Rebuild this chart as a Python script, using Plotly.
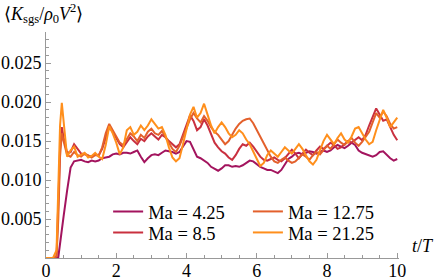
import numpy as np
import plotly.graph_objects as go

t_start = [0, 0.1, 0.2, 0.3, 0.35, 0.4, 0.45, 0.5]
t_rest = [round(0.6 + 0.1 * i, 1) for i in range(95)]
t = t_start + t_rest

ma_4_25 = [0, 0, 0, 0, 0.1, 2.0, 3.6, 5.3,
           8.6, 11.6, 12.4, 12.5, 12.6, 12.4, 12.3, 12.5, 12.4, 12.5, 12.8, 12.9, 13.0, 13.3, 13.4,
           13.3, 13.5, 13.5, 13.4, 13.6, 13.8, 13.0, 12.3, 12.8, 13.2, 13.3, 13.2, 13.5, 13.8, 13.7,
           13.6, 13.4, 13.6, 14.3, 15.0, 14.9, 14.0, 13.0, 12.8, 12.5, 12.2, 11.7, 11.4, 11.2, 11.5,
           11.9, 11.9, 11.7, 11.8, 11.7, 11.9, 12.2, 12.5, 12.4, 12.0, 11.7, 11.5, 11.3, 11.3, 11.1,
           10.9, 11.3, 12.0, 12.7, 13.0, 13.4, 13.5, 13.3, 13.5, 13.7, 13.6, 13.4, 13.6, 13.8, 13.6,
           13.8, 14.2, 14.5, 14.3, 14.1, 14.4, 14.8, 14.5, 13.8, 13.5, 13.3, 13.1, 13.0, 13.2, 13.6,
           13.7, 13.2, 12.8, 12.5, 12.7]
ma_8_5 = [0, 0, 0, 0.2, 6.0, 14.0, 16.8, 15.5,
          13.5, 13.6, 14.6, 14.0, 13.4, 13.3, 13.1, 13.0, 13.3, 13.2, 14.0, 15.5, 16.8, 16.2, 15.4,
          14.6, 14.2, 14.8, 15.5, 15.0, 14.6, 15.3, 15.0, 15.6, 16.0, 15.6, 15.2, 15.8, 15.5, 15.0,
          14.6, 14.2, 14.6, 15.8, 17.0, 18.3, 17.6, 16.4, 16.8, 17.8, 17.0, 15.8, 14.8, 14.2, 13.7,
          13.4, 12.9, 12.6, 13.2, 14.0, 14.6, 14.4, 14.8, 14.3, 13.6, 13.0, 12.6, 12.5, 12.7, 12.9,
          12.6, 12.4, 12.8, 13.4, 13.9, 13.4, 12.8, 13.4, 13.9, 13.5, 13.2, 13.8, 14.3, 14.0, 14.4,
          14.8, 14.5, 14.0, 14.2, 14.6, 15.0, 14.8, 15.2, 15.5, 15.1, 15.8, 17.0, 18.2, 19.2, 18.4,
          17.6, 17.8, 16.8, 15.8, 15.1]
ma_12_75 = [0, 0, 0, 0.2, 5.0, 13.0, 16.0, 15.0,
            13.2, 13.0, 13.6, 13.2, 13.0, 13.4, 13.1, 12.9, 13.2, 13.1, 14.2, 16.0, 17.2, 16.4, 15.6,
            14.8, 14.5, 15.2, 16.0, 15.6, 15.0, 15.8, 15.4, 16.2, 16.6, 16.0, 15.8, 16.3, 15.6, 14.8,
            14.0, 13.6, 14.4, 15.6, 16.8, 17.8, 18.6, 17.9, 17.4, 18.2, 17.6, 16.8, 16.2, 15.8, 15.2,
            14.6, 15.0, 15.8, 16.6, 17.2, 17.6, 17.8, 17.9, 17.3, 16.4, 15.6, 14.8, 13.8, 13.0, 12.4,
            12.2, 12.6, 12.9, 12.5, 12.2, 12.4, 12.8, 13.3, 13.0, 12.6, 13.2, 13.6, 13.3, 13.8, 14.4,
            14.0, 14.6, 15.2, 14.8, 14.5, 15.0, 15.4, 14.8, 14.4, 14.9, 15.6, 16.2, 17.4, 18.6, 18.0,
            18.8, 18.2, 17.2, 16.6, 16.8]
ma_21_25 = [0, 0, 0, 1.0, 9.0, 17.0, 19.9, 17.5,
            13.0, 13.8, 14.3, 13.0, 13.2, 13.5, 12.9, 13.1, 13.5, 13.0, 12.7, 14.5, 16.9, 16.0, 14.8,
            13.3, 14.2, 16.4, 16.8, 15.8, 16.2, 17.0, 16.4, 17.0, 17.8, 17.2, 16.6, 16.8, 15.8, 14.2,
            12.9, 12.4, 12.8, 14.6, 16.6, 18.4, 19.4, 18.0, 18.6, 19.8, 18.4, 17.0, 16.0, 16.8, 17.4,
            16.8, 16.0, 15.5, 15.8, 16.4, 16.0, 15.2, 14.6, 13.6, 12.6, 11.8, 12.2, 13.2, 13.8, 13.4,
            13.0, 13.6, 14.2, 13.8, 13.4, 14.0, 14.6, 14.0, 13.2, 12.4, 12.0, 12.6, 13.8, 15.0, 15.8,
            15.2, 14.6, 15.4, 16.0, 15.2, 14.8, 15.6, 16.6, 16.8, 16.0, 15.2, 14.6, 14.9, 16.4, 17.8,
            19.0, 18.0, 16.8, 17.4, 18.0]

labels = ["Ma = 4.25", "Ma = 8.5", "Ma = 12.75", "Ma = 21.25"]
colors = ["#A3145E", "#C9303F", "#E3602C", "#FF8F1C"]
legend_ids = ["legend", "legend2", "legend3", "legend4"]
series = [ma_4_25, ma_8_5, ma_12_75, ma_21_25]

x_ticks = [0, 2, 4, 6, 8, 10]
y_ticks = [0.005, 0.010, 0.015, 0.020, 0.025]

FONT = "Times New Roman, Liberation Serif, serif"
fig = go.Figure()
for vals, lab, col, lg in zip(series, labels, colors, legend_ids):
    fig.add_trace(go.Scatter(x=t, y=np.array(vals) / 1000.0, mode="lines", name=lab,
                             line=dict(color=col, width=2), legend=lg, showlegend=True))

axis_common = dict(showline=True, linecolor="#999999", linewidth=1, ticks="inside",
                   tickcolor="#999999", ticklen=5, showgrid=False, zeroline=False,
                   automargin=False,
                   tickfont=dict(family=FONT, size=18, color="black"))
fig.update_xaxes(range=[0, 10.05], tickvals=x_ticks, ticklabelstandoff=-4,
                 minor=dict(dtick=0.5, ticks="inside", ticklen=3, tickcolor="#999999"),
                 **axis_common)
fig.update_yaxes(range=[0, 0.029], tickvals=y_ticks, tickformat=".3f",
                 minor=dict(dtick=0.001, ticks="inside", ticklen=3, tickcolor="#999999"),
                 **axis_common)

leg_common = dict(bgcolor="rgba(0,0,0,0)", font=dict(family=FONT, size=18.5, color="black"),
                  yanchor="middle", xanchor="left", tracegroupgap=0, itemwidth=30)
fig.update_layout(
    width=436, height=280, showlegend=True,
    margin=dict(l=46, r=37, t=32, b=22, autoexpand=False),
    paper_bgcolor="white", plot_bgcolor="white",
    font=dict(family=FONT, size=18, color="black"),
    legend=dict(x=0.176, y=0.204, **leg_common),
    legend2=dict(x=0.176, y=0.111, **leg_common),
    legend3=dict(x=0.572, y=0.204, **leg_common),
    legend4=dict(x=0.572, y=0.111, **leg_common),
    annotations=[
        dict(text="⟨<i>K</i><sub>sgs</sub>/<i>ρ</i><sub>0</sub><i>V</i><sup>2</sup>⟩",
             xref="paper", yref="paper", x=-0.125, y=1.084, xanchor="left", yanchor="middle",
             showarrow=False, font=dict(family=FONT, size=18, color="black")),
        dict(text="<i>t</i>/<i>T</i>", xref="paper", yref="paper", x=1.031, y=0.053,
             xanchor="left", yanchor="middle", showarrow=False,
             font=dict(family=FONT, size=18, color="black")),
    ],
)
fig.write_html("out.html", config={"displayModeBar": False},
               post_script="document.body.style.margin='0px';")
